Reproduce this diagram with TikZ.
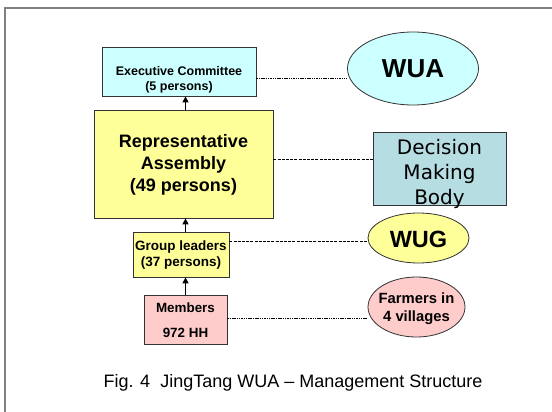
\documentclass[tikz,border=0pt]{standalone}
\usepackage{fontspec}
\setmainfont{Liberation Sans}
\newfontfamily\dvfont{DejaVu Sans}
\usetikzlibrary{arrows.meta,shapes.geometric}
\definecolor{cyanfill}{HTML}{CCFFFF}
\definecolor{yelfill}{HTML}{FFFF99}
\definecolor{pinkfill}{HTML}{FFCCCC}
\definecolor{tealfill}{HTML}{B6DDE2}
\definecolor{framegray}{HTML}{808080}
\tikzset{
  boxnode/.style={draw=black!80, line width=0.8pt, inner sep=0pt, anchor=center},
  ellnode/.style={ellipse, draw=black!80, line width=0.8pt, inner sep=0pt},
  txt/.style={font=\bfseries, align=center, inner sep=0pt},
  arr/.style={line width=1.4pt, -{Triangle[length=6pt,width=6pt]}},
  dotline/.style={line width=0.9pt, dash pattern=on 1.5pt off 0.8pt},
  dashline/.style={line width=0.9pt, dash pattern=on 3pt off 1.2pt},
}
\begin{document}
\begin{tikzpicture}[x=1pt,y=-1pt]
\useasboundingbox (0,0) rectangle (552,412);
\begin{scope}
\clip (0,0) rectangle (552,412);
\draw[framegray, line width=2pt] (5,8.5) rectangle (600,500);
\end{scope}
% boxes
\node[boxnode, fill=cyanfill, minimum width=154pt, minimum height=49pt] (ec) at (179,71.5) {};
\node[txt, font=\bfseries\fontsize{12.5}{15.5}\selectfont] (ect) at (179,80) {Executive Committee\\(5 persons)};
\node[boxnode, fill=yelfill, minimum width=179pt, minimum height=108pt] (ra) at (183.5,164) {};
\node[txt, font=\bfseries\fontsize{18}{22}\selectfont] (rat) at (183.5,165) {Representative\\Assembly\\(49 persons)};
\node[boxnode, fill=yelfill, minimum width=96pt, minimum height=45pt] (gl) at (181,254.5) {};
\node[txt, font=\bfseries\fontsize{13.5}{16}\selectfont] (glt) at (181,255) {Group leaders\\(37 persons)};
\node[boxnode, fill=pinkfill, minimum width=83pt, minimum height=49pt] (me) at (185.5,319.5) {};
\node[txt, font=\bfseries\fontsize{13.4}{25}\selectfont] (met) at (185.5,320) {Members\\972 HH};
% right side
\node[ellnode, fill=cyanfill, minimum width=131pt, minimum height=73pt] (wua) at (413,68.5) {};
\node[txt, font=\bfseries\fontsize{26}{30}\selectfont] (wuat) at (413,69) {WUA};
\node[boxnode, fill=tealfill, minimum width=133pt, minimum height=73pt] (dmb) at (439.5,168.5) {};
\node[align=center, inner sep=0pt, font=\dvfont\fontsize{20}{25}\selectfont] (dmbt) at (439.5,173.5) {Decision\\Making\\Body};
\node[ellnode, fill=yelfill, minimum width=101pt, minimum height=50pt] (wug) at (418.5,238) {};
\node[txt, font=\bfseries\fontsize{23.5}{28}\selectfont] (wugt) at (418.5,239) {WUG};
\node[ellnode, fill=pinkfill, minimum width=97pt, minimum height=60pt] (fa) at (416.5,307) {};
\node[txt, font=\bfseries\fontsize{14.8}{18}\selectfont] (fat) at (416.5,308.5) {Farmers in\\4 villages};
% connectors
\draw[arr] (ra.north -| me.north) -- (ec.south -| me.north);
\draw[arr] (gl.north -| me.north) -- (ra.south -| me.north);
\draw[arr] (me.north) -- (gl.south -| me.north);
\draw[dotline] ([yshift=-6.5pt]ec.east) -- ([yshift=-6.5pt]ec.east -| wua.west);
\draw[dashline] ([yshift=5pt]ra.east) -- ([yshift=5pt]ra.east -| dmb.west);
\draw[dashline] ([yshift=13.5pt]gl.east) -- ([yshift=13.5pt]gl.east -| wug.west);
\draw[dotline] ([yshift=1.5pt]me.east) -- ([yshift=1.5pt]me.east -| fa.west);
% caption
\node[inner sep=0pt, font=\fontsize{18}{20}\selectfont] (cap) at (293,383) {Fig. 4\ \ JingTang WUA -- Management Structure};
\end{tikzpicture}
\end{document}
